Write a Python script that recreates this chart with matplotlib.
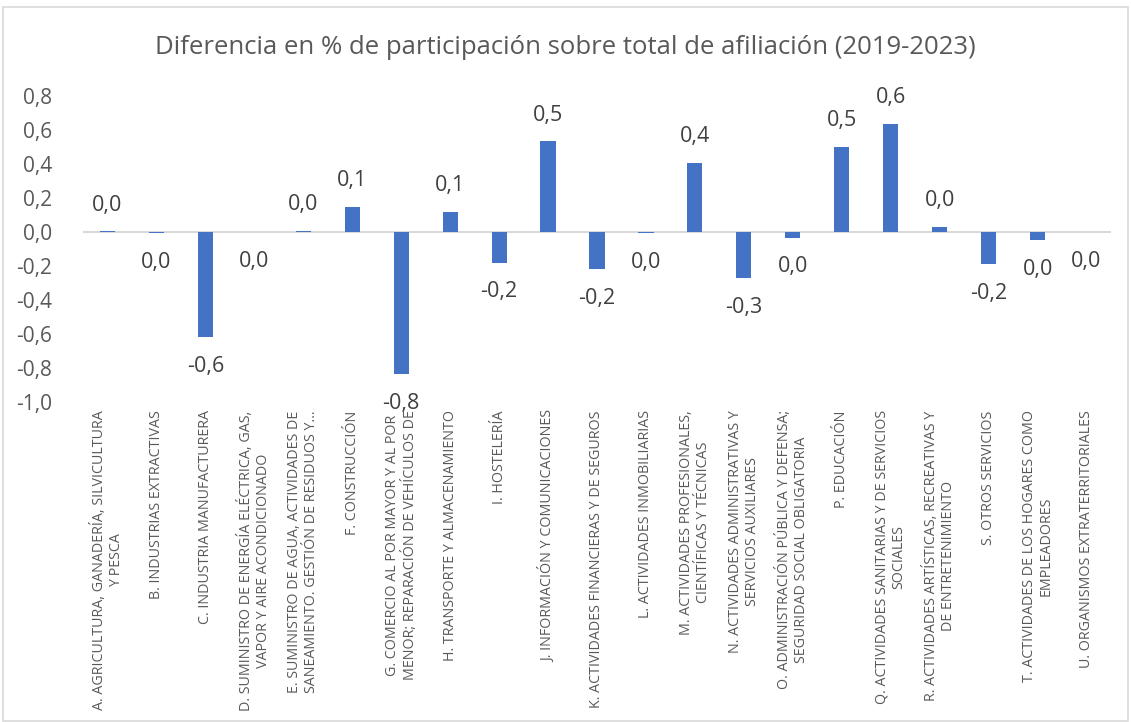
import matplotlib
matplotlib.use("Agg")
import matplotlib.pyplot as plt
from matplotlib.patches import Rectangle

categories = [
    "A. AGRICULTURA, GANADERÍA, SILVICULTURA\nY PESCA",
    "B. INDUSTRIAS EXTRACTIVAS",
    "C. INDUSTRIA MANUFACTURERA",
    "D. SUMINISTRO DE ENERGÍA ELÉCTRICA, GAS,\nVAPOR Y AIRE ACONDICIONADO",
    "E. SUMINISTRO DE AGUA, ACTIVIDADES DE\nSANEAMIENTO. GESTIÓN DE RESIDUOS Y…",
    "F. CONSTRUCCIÓN",
    "G. COMERCIO AL POR MAYOR Y AL POR\nMENOR; REPARACIÓN DE VEHÍCULOS DE",
    "H. TRANSPORTE Y ALMACENAMIENTO",
    "I. HOSTELERÍA",
    "J. INFORMACIÓN Y COMUNICACIONES",
    "K. ACTIVIDADES FINANCIERAS Y DE SEGUROS",
    "L. ACTIVIDADES INMOBILIARIAS",
    "M. ACTIVIDADES PROFESIONALES,\nCIENTÍFICAS Y TÉCNICAS",
    "N. ACTIVIDADES ADMINISTRATIVAS Y\nSERVICIOS AUXILIARES",
    "O. ADMINISTRACIÓN PÚBLICA Y DEFENSA;\nSEGURIDAD SOCIAL OBLIGATORIA",
    "P. EDUCACIÓN",
    "Q. ACTIVIDADES SANITARIAS Y DE SERVICIOS\nSOCIALES",
    "R. ACTIVIDADES ARTÍSTICAS, RECREATIVAS Y\nDE ENTRETENIMIENTO",
    "S. OTROS SERVICIOS",
    "T. ACTIVIDADES DE LOS HOGARES COMO\nEMPLEADORES",
    "U. ORGANISMOS EXTRATERRITORIALES",
]
values = [0.003, -0.005, -0.62, -0.001, 0.008, 0.145, -0.838, 0.118, -0.18, 0.533,
          -0.22, -0.005, 0.405, -0.27, -0.034, 0.502, 0.636, 0.032, -0.19, -0.048, -0.001]
yticks = [-1.0, -0.8, -0.6, -0.4, -0.2, 0.0, 0.2, 0.4, 0.6, 0.8]
title = "Diferencia en % de participación sobre total de afiliación (2019-2023)"

FONT = "Open Sans"
W, H = 1131, 722
fig = plt.figure(figsize=(W / 100, H / 100), dpi=100)

fig.patches.append(Rectangle((3 / W, 1 - 721 / H), 1125 / W, 714 / H,
                             transform=fig.transFigure, fill=False,
                             edgecolor="#D9D9D9", linewidth=1.2))

ax = fig.add_axes([83 / W, 1 - 402 / H, (1111 - 83) / W, (402 - 96) / H])
x = list(range(len(values)))
ax.bar(x, values, width=0.31, color="#4472C4", zorder=3)
ax.axhline(0, color="#D9D9D9", linewidth=1.5, zorder=2)
ax.set_xlim(-0.5, 20.5)
ax.set_ylim(-1.0, 0.8)
ax.set_yticks(yticks)
ax.set_yticklabels([f"{v:.1f}".replace(".", ",") for v in yticks],
                   fontsize=15, color="#595959", family=FONT)
ax.tick_params(axis="y", length=0, pad=22)
ax.set_xticks([])
for s in ax.spines.values():
    s.set_visible(False)

def fmt(v):
    s = f"{abs(v):.1f}"
    if round(abs(v), 1) != 0 and v < 0:
        s = "-" + s
    return s.replace(".", ",")

for xi, v in zip(x, values):
    off = 19 if v >= 0 else -21
    ax.annotate(fmt(v), (xi, v), xytext=(0, off), textcoords="offset points",
                ha="center", va="center", fontsize=15.5, color="#404040", family=FONT)

# category labels
for xi, lab in zip(x, categories):
    ax.annotate(lab, (xi, -1.0), xytext=(0, -6), textcoords="offset points",
                rotation=90, ha="center", va="top", multialignment="center",
                fontsize=10.3, color="#595959", family=FONT, linespacing=1.15,
                annotation_clip=False)

fig.text(0.5, 1 - 47 / H, title, ha="center", va="center", fontsize=18.5,
         color="#595959", family=FONT)

fig.savefig("out.png", dpi=100)
